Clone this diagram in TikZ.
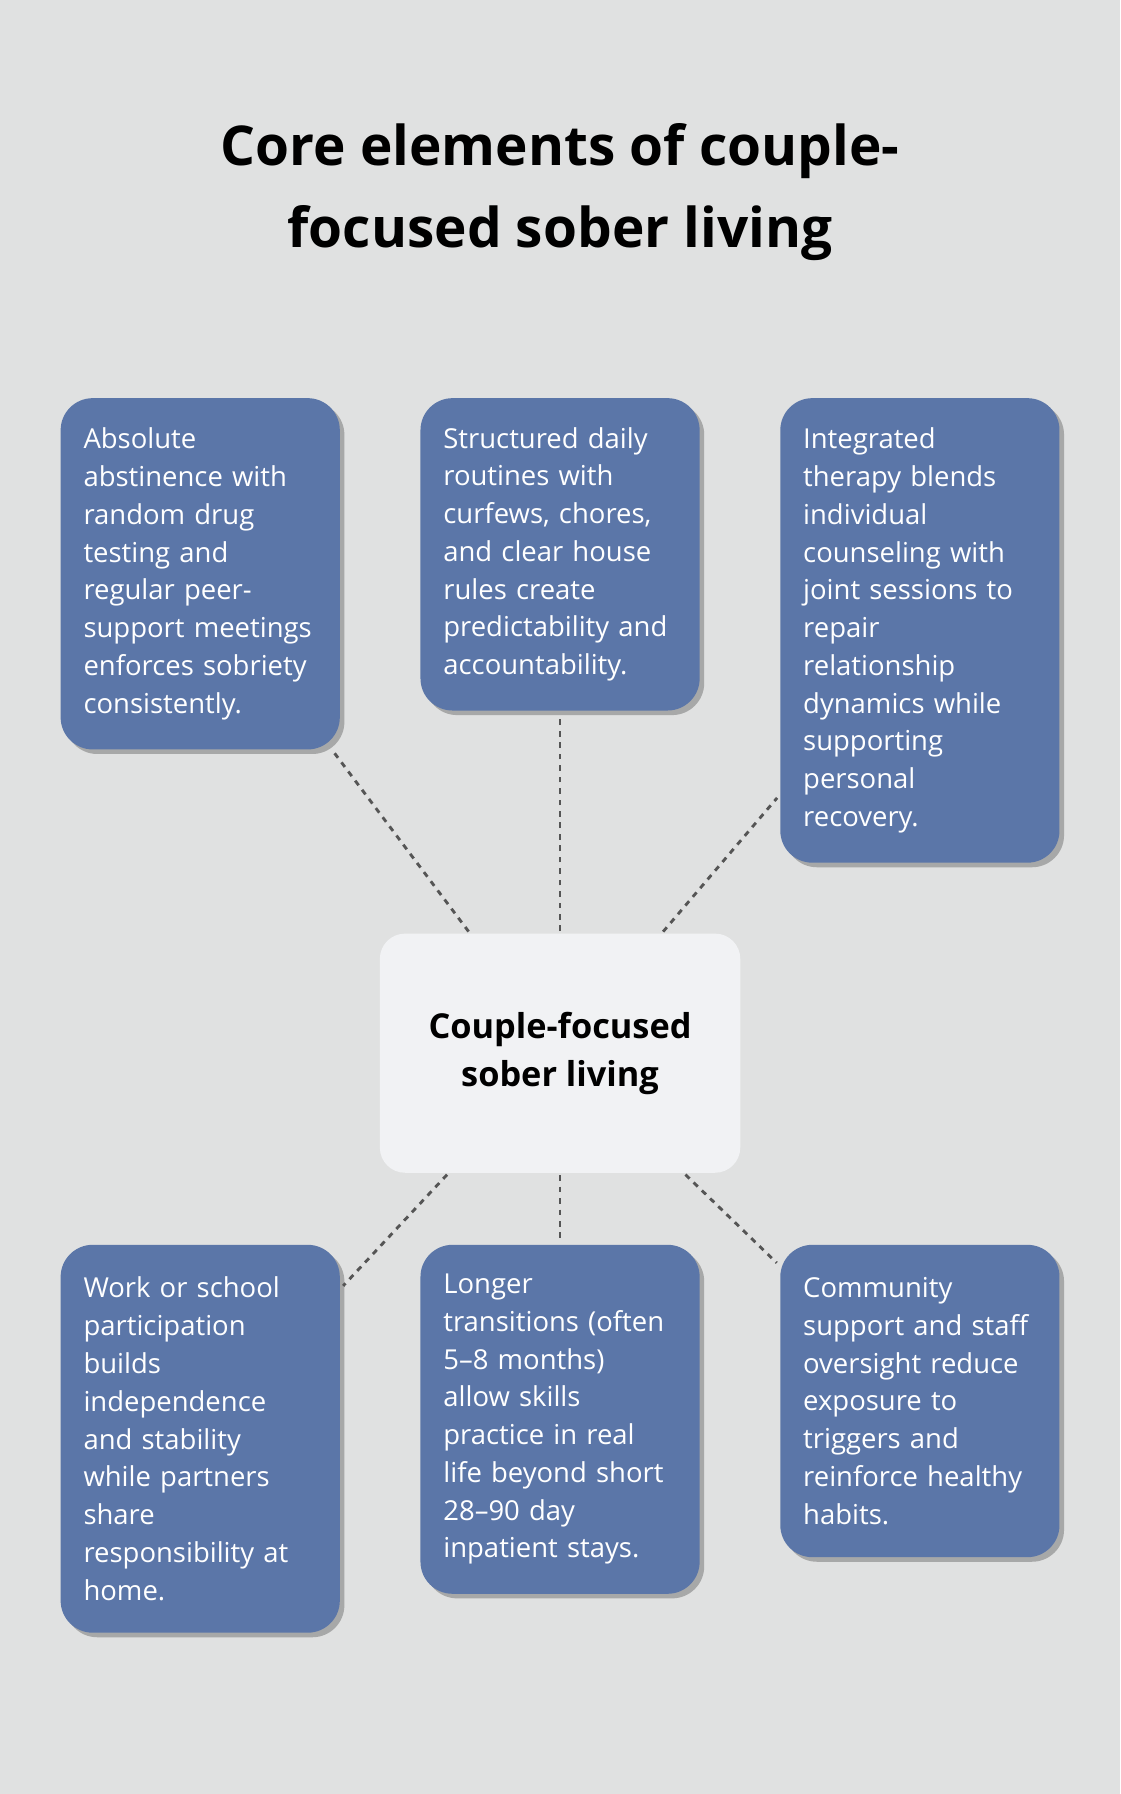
\documentclass[tikz,border=0pt]{standalone}
\usepackage{fontspec}
\setmainfont{Open Sans}
\usetikzlibrary{shadows}
\definecolor{bgcol}{HTML}{E0E1E1}
\definecolor{boxcol}{HTML}{5B76A8}
\definecolor{hubcol}{HTML}{F1F2F4}
\definecolor{linecol}{HTML}{555555}
\tikzset{
  item/.style={rounded corners=28pt, fill=boxcol, text=white, minimum width=244pt,
    text width=204pt, align=left, inner sep=20pt, font=\fontsize{24}{33}\selectfont,
    drop shadow={shadow xshift=4pt, shadow yshift=-4pt, opacity=0.25, fill=black}},
  hub/.style={rounded corners=22pt, fill=hubcol, minimum width=315pt, minimum height=209pt,
    align=center, font=\bfseries\fontsize{30}{42}\selectfont},
  link/.style={draw=linecol, line width=2.5pt, dash pattern=on 5pt off 5pt}
}
\begin{document}
\begin{tikzpicture}[x=1pt,y=-1pt]
  \fill[bgcol] (0,0) rectangle (979,1568);
  \useasboundingbox (0,0) rectangle (979,1568);
  % title
  \node (title) at (489.5,168) [align=center, font=\bfseries\fontsize{48}{72}\selectfont]
    {Core elements of couple-\\focused sober living};
  % hub
  \node[hub] (hub) at (489.5,920.5) {Couple-focused\\sober living};
  % top row
  \node[item, minimum height=307pt] (abst) at (175,501.5)
    {Absolute\\abstinence with\\random drug\\testing and\\regular peer-\\support meetings\\enforces sobriety\\consistently.};
  \node[item, minimum height=273pt] (rout) at (489.5,484.5)
    {Structured daily\\routines with\\curfews, chores,\\and clear house\\rules create\\predictability and\\accountability.};
  \node[item, minimum height=406pt] (ther) at (804,551)
    {Integrated\\therapy blends\\individual\\counseling with\\joint sessions to\\repair\\relationship\\dynamics while\\supporting\\personal\\recovery.};
  % bottom row
  \node[item, minimum height=339pt] (work) at (175,1257.5)
    {Work or school\\participation\\builds\\independence\\and stability\\while partners\\share\\responsibility at\\home.};
  \node[item, minimum height=305pt] (trans) at (489.5,1240.5)
    {Longer\\transitions (often\\5–8 months)\\allow skills\\practice in real\\life beyond short\\28–90 day\\inpatient stays.};
  \node[item, minimum height=273pt] (comm) at (804,1224.5)
    {Community\\support and staff\\oversight reduce\\exposure to\\triggers and\\reinforce healthy\\habits.};
  % connectors
  \foreach \n in {abst,rout,ther,work,trans,comm}
    \draw[link, shorten <=2pt, shorten >=4pt] (hub) -- (\n);
\end{tikzpicture}
\end{document}
